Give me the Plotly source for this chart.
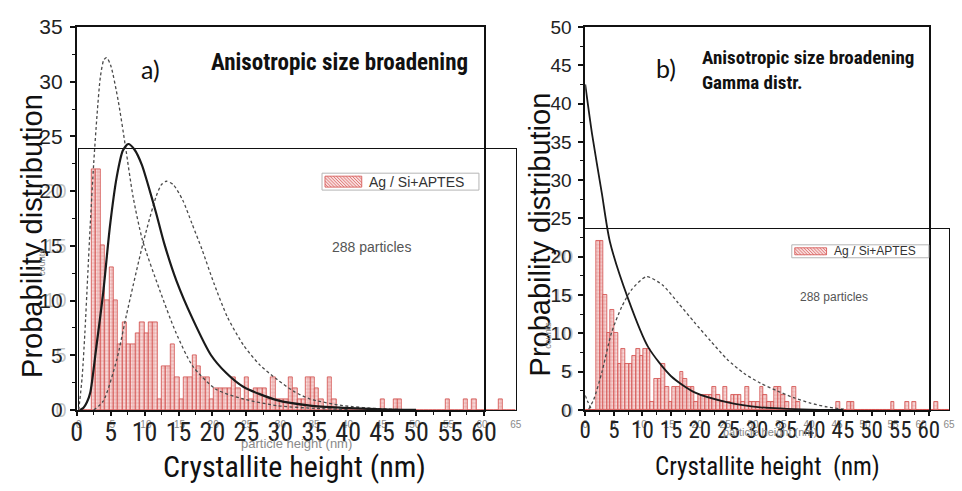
import plotly.graph_objects as go

# ---------------- data ----------------
BIN_WIDTH = 0.65
counts = [0, 0, 0, 22, 22, 15, 10, 13, 10, 6,
          8, 6, 6, 7, 8, 7, 8, 8, 1, 4,
          4, 6, 3, 1, 3, 3, 5, 4, 3, 3,
          1, 2, 2, 2, 2, 3, 2, 1, 3, 1,
          2, 2, 2, 1, 3, 1, 1, 1, 3, 2,
          1, 1, 3, 3, 2, 1, 0, 3, 1, 0,
          0, 0, 0, 0, 0, 0, 0, 0, 0, 1,
          0, 0, 1, 1, 0, 0, 0, 0, 0, 0,
          0, 0, 0, 0, 1, 0, 0, 0, 1, 0,
          1, 0, 0, 0, 0, 0, 1, 0, 0, 0]
bin_centers = [(i + 0.5) * BIN_WIDTH for i in range(len(counts))]

a_dash1_x = [0.3, 0.8, 1.2, 1.6, 2.0, 2.5, 3.0, 3.5, 4.0, 4.4, 5.0, 6.1, 7.2, 8.3, 9.7, 12.2, 14.6, 17.1, 20.5, 24.6, 29.5, 35, 40]
a_dash1_y = [0, 3, 7, 12, 17, 22.5, 27, 30.5, 32, 32.2, 31.5, 28.3, 24, 19.5, 15.5, 11, 7.1, 4, 1.9, 1.0, 0.4, 0.15, 0.05]
a_solid_x = [0.5, 1.0, 1.5, 2.0, 2.9, 3.9, 4.9, 5.9, 6.8, 7.6, 8.5, 9.6, 10.5, 11.7, 12.9, 14.7, 17.1, 19.8, 22.0, 24.6, 29.5, 34.4, 39.2, 45, 50]
a_solid_y = [0, 0.2, 0.7, 1.6, 5.8, 10.7, 16.8, 21.3, 23.7, 24.3, 23.8, 22.4, 20.6, 18.0, 15.2, 11.8, 8.3, 5.0, 3.4, 2.1, 0.9, 0.4, 0.2, 0.05, 0]
a_dash2_x = [2.5, 3.9, 5.9, 7.3, 9.8, 11.7, 12.5, 13.2, 14.2, 15.6, 17.0, 18.5, 20.2, 22.2, 24.6, 27.0, 29.5, 32, 34.4, 39.2, 45, 50]
a_dash2_y = [0, 0.8, 4.6, 8.6, 15.3, 19.5, 20.6, 20.9, 20.6, 19.2, 17.0, 14.6, 11.6, 8.5, 5.9, 4.1, 2.8, 1.7, 1.0, 0.4, 0.1, 0]

b_solid_x = [0, 1.2, 2.9, 4.3, 7.5, 11.0, 15.0, 19.1, 24.9, 30.6, 39.3, 45]
b_solid_y = [42.5, 36, 28.3, 22, 14.5, 8.2, 4.4, 2.3, 1.0, 0.35, 0.05, 0]
b_dash_x = [0.6, 1.5, 2.9, 4.6, 6.4, 8.1, 10.7, 13.5, 16.2, 19.0, 21.9, 24.8, 27.7, 30.6, 33.5, 36.4, 39.3, 42.2, 45.2]
b_dash_y = [0.1, 1.4, 4.9, 10.1, 13.5, 15.7, 17.4, 16.3, 14.0, 11.5, 9.0, 6.6, 4.8, 3.5, 2.5, 1.6, 0.9, 0.4, 0.1]
b_tail_x = [0, 0.5, 1.0]
b_tail_y = [1.9, 1.0, 0.2]

outer_a_yticks = [0, 5, 10, 15, 20, 25, 30, 35]
outer_b_yticks = [0, 5, 10, 15, 20, 25, 30, 35, 40, 45, 50]
outer_xticks = [0, 5, 10, 15, 20, 25, 30, 35, 40, 45, 50, 55, 60]
inset_xticks = [0, 5, 10, 15, 20, 25, 30, 35, 40, 45, 50, 55, 60, 65]
inset_yticks = [0, 5, 10, 15, 20]
series_name = "Ag / Si+APTES"

# ---------------- layout helpers ----------------
W, H = 962, 491
# the photographed page shows the figure slightly shrunk and offset; layout positions
# below are given in target-picture pixels and mapped back through that view.
SX, OX = 0.987, 3.8
SY, OY = 0.958, 11.0
def fx(p):
    return min(max(((p - OX) / SX) / W, 0.0), 1.0)
def fy(p):
    return min(max(1 - ((p - OY) / SY) / H, 0.0), 1.0)

NARROW = "Liberation Sans Narrow, Arial Narrow, Roboto Condensed, Liberation Sans, sans-serif"
SANS = "Liberation Sans, Arial, sans-serif"
BAR_FG = "#d8605d"
BAR_LINE = "#d24a47"

fig = go.Figure()
bar_style = dict(
    marker=dict(color="#f4caca", line=dict(color=BAR_LINE, width=0.8),
                pattern=dict(shape="+", fgcolor=BAR_FG, bgcolor="#f7d9d9", size=3.5, solidity=0.33)),
    width=BIN_WIDTH, showlegend=False, name=series_name,
)
fig.add_trace(go.Bar(x=bin_centers, y=counts, xaxis="x", yaxis="y", **bar_style))
dash_line = dict(color="#4a4a4a", width=1.3, dash="3px,2.5px", shape="spline", smoothing=0.7)
solid_line = dict(color="#1a1a1a", width=2.2, shape="spline", smoothing=0.7)
fig.add_trace(go.Scatter(x=a_dash1_x, y=a_dash1_y, mode="lines", line=dash_line, xaxis="x2", yaxis="y2", showlegend=False))
fig.add_trace(go.Scatter(x=a_dash2_x, y=a_dash2_y, mode="lines", line=dash_line, xaxis="x2", yaxis="y2", showlegend=False))
fig.add_trace(go.Scatter(x=a_solid_x, y=a_solid_y, mode="lines", line=solid_line, xaxis="x2", yaxis="y2", showlegend=False))
fig.add_trace(go.Bar(x=bin_centers, y=counts, xaxis="x3", yaxis="y3", **bar_style))
fig.add_trace(go.Scatter(x=b_dash_x, y=b_dash_y, mode="lines", line=dash_line, xaxis="x4", yaxis="y4", showlegend=False))
fig.add_trace(go.Scatter(x=b_tail_x, y=b_tail_y, mode="lines", line=dash_line, xaxis="x4", yaxis="y4", showlegend=False))
fig.add_trace(go.Scatter(x=b_solid_x, y=b_solid_y, mode="lines",
                         line=dict(color="#1a1a1a", width=1.8, shape="spline", smoothing=0.7),
                         xaxis="x4", yaxis="y4", showlegend=False))

ybot = fy(411)
inset_tick_font = dict(family=SANS, size=10, color="#8a8a8a")

def outer_x(dom, anchor, size, standoff):
    return dict(domain=dom, range=[0, 60], anchor=anchor, showline=True, mirror=True,
                linecolor="#111", linewidth=1.6, showgrid=False, zeroline=False,
                ticks="outside", ticklen=4, tickwidth=1.5, tickcolor="#111",
                minor=dict(ticks="outside", ticklen=3, dtick=2.5, tickcolor="#111", tickwidth=1.2),
                tickvals=outer_xticks, tickfont=dict(family=NARROW, size=size, color="#222"),
                ticklabelstandoff=standoff)

def outer_y(dom, anchor, rng, vals, size):
    return dict(domain=dom, range=rng, anchor=anchor, showline=True, mirror=True,
                linecolor="#111", linewidth=1.6, showgrid=False, zeroline=False,
                ticks="outside", ticklen=5, tickwidth=1.5, tickcolor="#111",
                minor=dict(ticks="outside", ticklen=3, dtick=2.5, tickcolor="#111", tickwidth=1.2),
                tickvals=vals, tickfont=dict(family=SANS, size=size, color="#222"),
                ticklabelstandoff=3)

def inset_x(dom, anchor, rng):
    return dict(domain=dom, range=rng, anchor=anchor, showline=True, mirror=True,
                linecolor="#111", linewidth=1.2, showgrid=False, zeroline=False, ticks="",
                tickvals=inset_xticks, tickfont=inset_tick_font, ticklabelstandoff=5)

def inset_y(dom, anchor, rng, size):
    return dict(domain=dom, range=rng, anchor=anchor, showline=True, mirror=True,
                linecolor="#111", linewidth=1.2, showgrid=False, zeroline=False, ticks="",
                tickvals=inset_yticks, tickfont=dict(family=SANS, size=size, color="rgba(80,80,80,0.35)"),
                ticklabelstandoff=7)

fig.update_layout(
    width=W, height=H, margin=dict(l=0, r=0, t=0, b=0), autosize=False,
    paper_bgcolor="white", plot_bgcolor="rgba(0,0,0,0)",
    bargap=0, barmode="overlay", showlegend=False,
    xaxis=inset_x([fx(77), fx(517)], "y", [0, 65]),
    yaxis=inset_y([ybot, fy(149)], "x", [0, 23.8], 20),
    xaxis2=outer_x([fx(75), fx(485)], "y2", 26, -6),
    yaxis2=outer_y([ybot, fy(26)], "x2", [0, 35], outer_a_yticks, 21),
    xaxis3=inset_x([fx(587), fx(961)], "y3", [0, 65]),
    yaxis3=inset_y([ybot, fy(229)], "x3", [0, 23.6], 19),
    xaxis4=outer_x([fx(587), fx(933)], "y4", 23, -5),
    yaxis4=outer_y([ybot, fy(26)], "x4", [0, 50], outer_b_yticks, 19),
)

def ann(text, x, y, size, family=SANS, color="#111", angle=0, xanchor="center", yanchor="middle", bold=False, align="center"):
    if bold:
        text = "<b>" + text.replace("<br>", "</b><br><b>") + "</b>"
    fig.add_annotation(text=text, x=fx(x), y=fy(y), xref="paper", yref="paper", showarrow=False,
                       font=dict(family=family, size=size, color=color), textangle=angle,
                       xanchor=xanchor, yanchor=yanchor, align=align)

def legend_box(x0, y0, x1, y1, sw_x0, sw_x1, text, size):
    fig.add_shape(type="rect", xref="paper", yref="paper", x0=fx(x0), x1=fx(x1), y0=fy(y1), y1=fy(y0),
                  line=dict(color="#b5b5b5", width=1), fillcolor="white", layer="above")
    t, b = y0 + 3, y1 - 3
    fig.add_shape(type="rect", xref="paper", yref="paper", x0=fx(sw_x0), x1=fx(sw_x1), y0=fy(b), y1=fy(t),
                  line=dict(color=BAR_LINE, width=0.8), fillcolor="#f8dcdc", layer="above")
    h = b - t
    segs = []
    k = sw_x0 - h
    while k < sw_x1:
        xa, ya = k, t
        xb, yb = k + h, b
        if xa < sw_x0:
            ya = t + (sw_x0 - xa); xa = sw_x0
        if xb > sw_x1:
            yb = b - (xb - sw_x1); xb = sw_x1
        if ya < yb:
            segs.append("M{:.4f},{:.4f} L{:.4f},{:.4f}".format(fx(xa), fy(ya), fx(xb), fy(yb)))
        k += 3.2
    fig.add_shape(type="path", xref="paper", yref="paper", path=" ".join(segs),
                  line=dict(color=BAR_FG, width=0.8), layer="above")
    ann(text, sw_x1 + 5, (y0 + y1) / 2, size, color="#333", xanchor="left")

ann("a)", 149, 68, 25, family="Lato, Open Sans, sans-serif")
ann("Anisotropic size broadening", 340, 62, 23, family=NARROW, bold=True)
ann("Probability distribution", 30, 236, 29, angle=-90)
ann("counts", 40, 262, 9, color="#888", angle=-90)
ann("288 particles", 372, 247, 14, color="#555")
ann("particle height (nm)", 296, 445, 13, color="#8a8a8a")
ann("Crystallite height (nm)", 294, 468, 30, family=NARROW)
legend_box(322, 173, 480, 190, 325, 362, series_name, 14)

ann("b)", 668, 67, 25, family="Lato, Open Sans, sans-serif")
ann("Anisotropic size broadening<br>Gamma distr.", 703, 69, 19, family=NARROW, bold=True, xanchor="left", align="left")
ann("Probability distribution", 541, 235, 29, angle=-90)
ann("counts", 550, 336, 9, color="#888", angle=-90)
ann("288 particles", 838, 297, 12, color="#555")
ann("particle height (nm)", 773, 433, 11, color="#8a8a8a")
ann("Crystallite height  (nm)", 771, 468, 25, family=NARROW)
legend_box(795, 245, 933, 258, 798, 830, series_name, 12)

fig.write_html("out.html")
